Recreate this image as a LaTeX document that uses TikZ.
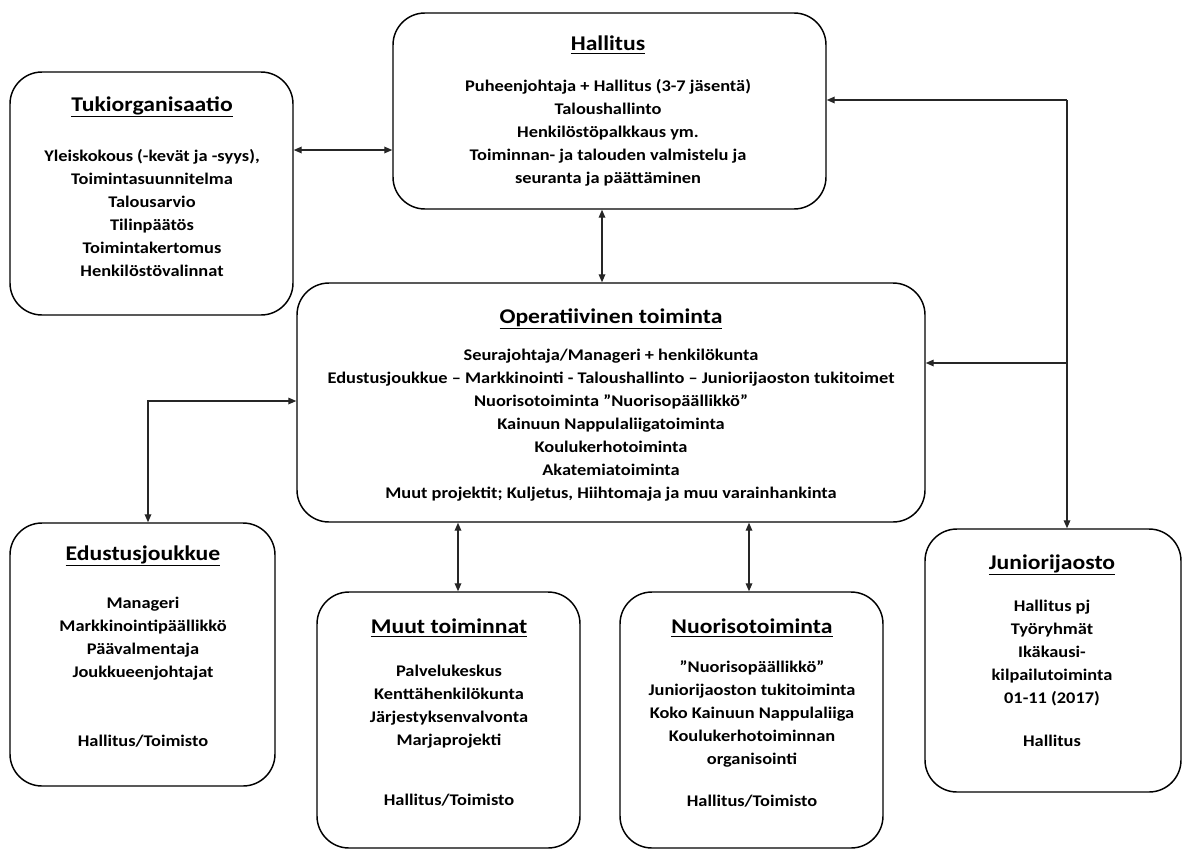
\documentclass[tikz,border=0pt]{standalone}
\usepackage{fontspec}
\setmainfont{Carlito}[FakeStretch=1.13]
\usetikzlibrary{arrows.meta}
\tikzset{
  box/.style={draw=black, line width=1.1pt, rounded corners=24pt, inner sep=0pt},
  ttl/.style={font=\fontsize{15.7}{18}\selectfont\bfseries, inner sep=0pt, anchor=center},
  body/.style={font=\fontsize{12.2}{17.25}\selectfont\bfseries, align=center, inner sep=0pt, anchor=north},
  conn/.style={line width=0.9pt, draw=black!85, {Triangle[length=6pt,width=5pt]}-{Triangle[length=6pt,width=5pt]}},
  conn1/.style={line width=0.9pt, draw=black!85, -{Triangle[length=6pt,width=5pt]}}
}
\begin{document}
\begin{tikzpicture}[x=0.75pt,y=-0.75pt]
\useasboundingbox (0,0) rectangle (1182,850);
% boxes (pixel extents)
\node[box, minimum width=324.75pt, minimum height=147pt] (hal) at (609.5,111) {};
\node[box, minimum width=212.25pt, minimum height=182.25pt] (tuki) at (151.5,193.5) {};
\node[box, minimum width=471pt, minimum height=179.25pt] (oper) at (611,402.5) {};
\node[box, minimum width=198.75pt, minimum height=197.25pt] (edus) at (142.5,654.5) {};
\node[box, minimum width=197.25pt, minimum height=192pt] (muut) at (448.5,720) {};
\node[box, minimum width=197.25pt, minimum height=192pt] (nuor) at (751.5,720) {};
\node[box, minimum width=192pt, minimum height=197.25pt] (jun) at (1053,660.5) {};
% Hallitus
\node[ttl] (halT) at (608,45) {\underline{Hallitus}};
\node[body] (halB) at (608,79) {Puheenjohtaja + Hallitus (3-7 jäsentä)\\Taloushallinto\\Henkilöstöpalkkaus ym.\\Toiminnan- ja talouden valmistelu ja\\seuranta ja päättäminen};
% Tuki
\node[ttl] (tukiT) at (152,107) {\underline{Tukiorganisaatio}};
\node[body] (tukiB) at (152,149) {Yleiskokous (-kevät ja -syys),\\Toimintasuunnitelma\\Talousarvio\\Tilinpäätös\\Toimintakertomus\\Henkilöstövalinnat};
% Oper
\node[ttl] (operT) at (611,319) {\underline{Operatiivinen toiminta}};
\node[body] (operB) at (611,349) {Seurajohtaja/Manageri + henkilökunta\\Edustusjoukkue – Markkinointi - Taloushallinto – Juniorijaoston tukitoimet\\Nuorisotoiminta ”Nuorisopäällikkö”\\Kainuun Nappulaliigatoiminta\\Koulukerhotoiminta\\Akatemiatoiminta\\Muut projektit; Kuljetus, Hiihtomaja ja muu varainhankinta};
% Edus
\node[ttl] (edusT) at (143,556) {\underline{Edustusjoukkue}};
\node[body] (edusB) at (143,597) {Manageri\\Markkinointipäällikkö\\Päävalmentaja\\Joukkueenjohtajat};
\node[body] (edusH) at (143,735) {Hallitus/Toimisto};
% Muut
\node[ttl] (muutT) at (449,628) {\underline{Muut toiminnat}};
\node[body] (muutB) at (449,665) {Palvelukeskus\\Kenttähenkilökunta\\Järjestyksenvalvonta\\Marjaprojekti};
\node[body] (muutH) at (449,794) {Hallitus/Toimisto};
% Nuor
\node[ttl] (nuorT) at (752,628) {\underline{Nuorisotoiminta}};
\node[body] (nuorB) at (752,660) {”Nuorisopäällikkö”\\Juniorijaoston tukitoiminta\\Koko Kainuun Nappulaliiga\\Koulukerhotoiminnan\\organisointi};
\node[body] (nuorH) at (752,795) {Hallitus/Toimisto};
% Junior
\node[ttl] (junT) at (1052,565) {\underline{Juniorijaosto}};
\node[body] (junB) at (1052,600) {Hallitus pj\\Työryhmät\\Ikäkausi-\\kilpailutoiminta\\01-11 (2017)};
\node[body] (junH) at (1052,735) {Hallitus};
% connectors
\coordinate (r1) at (1067,100);
\coordinate (l1) at (148,401);
\coordinate (mx) at (458,0);
\coordinate (nx) at (749,0);
\coordinate (hx) at (602,0);
\draw[conn] (tuki.east |- 0,150) -- (hal.west |- 0,150);
\draw[conn] (hal.south -| hx) -- (oper.north -| hx);
\draw[conn] (oper.south -| mx) -- (muut.north -| mx);
\draw[conn] (oper.south -| nx) -- (nuor.north -| nx);
\draw[conn] (oper.west |- l1) -- (l1) -- (edus.north -| l1);
\draw[conn1] (r1) -- (hal.east |- r1);
\draw[conn1] (r1) -- (jun.north -| r1);
\draw[conn1] (r1 |- 0,363) -- (oper.east |- 0,363);
\end{tikzpicture}
\end{document}
